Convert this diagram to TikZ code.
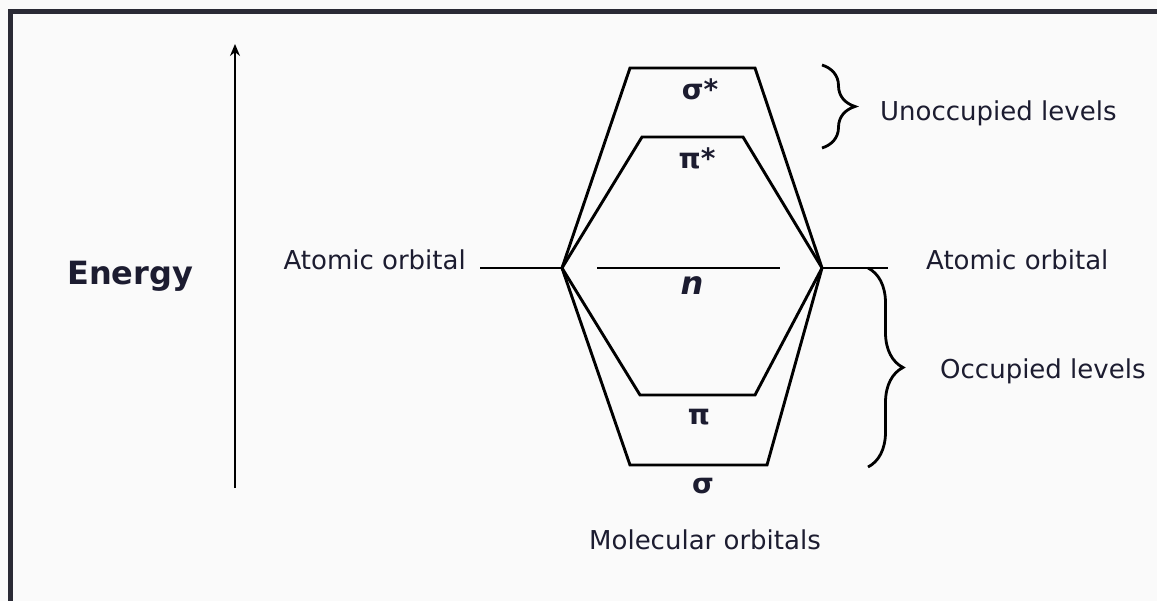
\documentclass[tikz,border=0pt]{standalone}
\usepackage{fontspec}
\setmainfont{DejaVu Sans}
\usetikzlibrary{arrows.meta,decorations.pathreplacing}
\definecolor{framecol}{HTML}{2A2A35}
\definecolor{bgcol}{HTML}{FAFAFA}
\definecolor{txt}{HTML}{1C1C30}
\tikzset{
  lvl/.style={line width=2.9pt, line join=miter, black},
  lbl/.style={inner sep=0pt, text=txt, font=\fontsize{26}{30}\selectfont},
  greek/.style={inner sep=0pt, text=txt, font=\fontsize{28}{32}\selectfont\bfseries},
  bracedeco/.style={line width=2.8pt, black, decorate},
}
\begin{document}
\begin{tikzpicture}[x=1pt,y=-1pt]
\useasboundingbox (0,0) rectangle (1157,601);
\fill[bgcol] (0,0) rectangle (1157,601);
% frame
\coordinate (f1) at (10,601);
\coordinate (f2) at (10,12);
\coordinate (f3) at (1157,12);
\draw[line width=5pt, framecol] (f1) -- (f2) -- (f3);

% energy axis
\coordinate (eb) at (235,488);
\coordinate (et) at (235,44);
\draw[line width=2.8pt, -{Stealth[length=12pt,width=10pt]}] (eb) -- (et);
\node[inner sep=0pt, anchor=base west, text=txt, font=\fontsize{32}{36}\selectfont\bfseries] (energy) at (67,285) {Energy};

% vertices
\coordinate (L) at (562,268);
\coordinate (R) at (822,268);
\coordinate (la) at (480,268);
\coordinate (ra) at (888,268);
% levels
\coordinate (ss1) at (630,68);  \coordinate (ss2) at (755,68);
\coordinate (ps1) at (642,137); \coordinate (ps2) at (743,137);
\coordinate (n1) at (597,268);  \coordinate (n2) at (780,268);
\coordinate (p1) at (640,395);  \coordinate (p2) at (755,395);
\coordinate (s1) at (630,465);  \coordinate (s2) at (767,465);

\draw[lvl] (la) -- (L);
\draw[lvl] (R) -- (ra);
\draw[lvl] (L) -- (ss1) -- (ss2) -- (R);
\draw[lvl] (L) -- (ps1) -- (ps2) -- (R);
\draw[lvl] (n1) -- (n2);
\draw[lvl] (L) -- (p1) -- (p2) -- (R);
\draw[lvl] (L) -- (s1) -- (s2) -- (R);

% level labels
\node[greek] (lss) at (700,89) {σ*};
\node[greek] (lps) at (697,158) {π*};
\node[greek, font=\fontsize{32}{36}\selectfont\bfseries\itshape] (ln) at (692,286) {n};
\node[greek] (lp) at (699,417) {π};
\node[greek] (ls) at (703,486) {σ};

% text labels
\node[lbl, anchor=base east] (aoL) at (466,270) {Atomic orbital};
\node[lbl, anchor=base west] (aoR) at (926,270) {Atomic orbital};
\node[lbl, anchor=base west] (unocc) at (880,121) {Unoccupied levels};
\node[lbl, anchor=base west] (occ) at (940,379) {Occupied levels};
\node[lbl, anchor=base] (mo) at (705,549) {Molecular orbitals};

% braces
\coordinate (u1) at (822,65);
\coordinate (u2) at (822,148);
\draw[bracedeco, decoration={brace, amplitude=33pt}] (u1) -- (u2);
\coordinate (o1) at (868,268);
\coordinate (o2) at (868,467);
\draw[bracedeco, decoration={brace, amplitude=35pt}] (o1) -- (o2);
\end{tikzpicture}
\end{document}
